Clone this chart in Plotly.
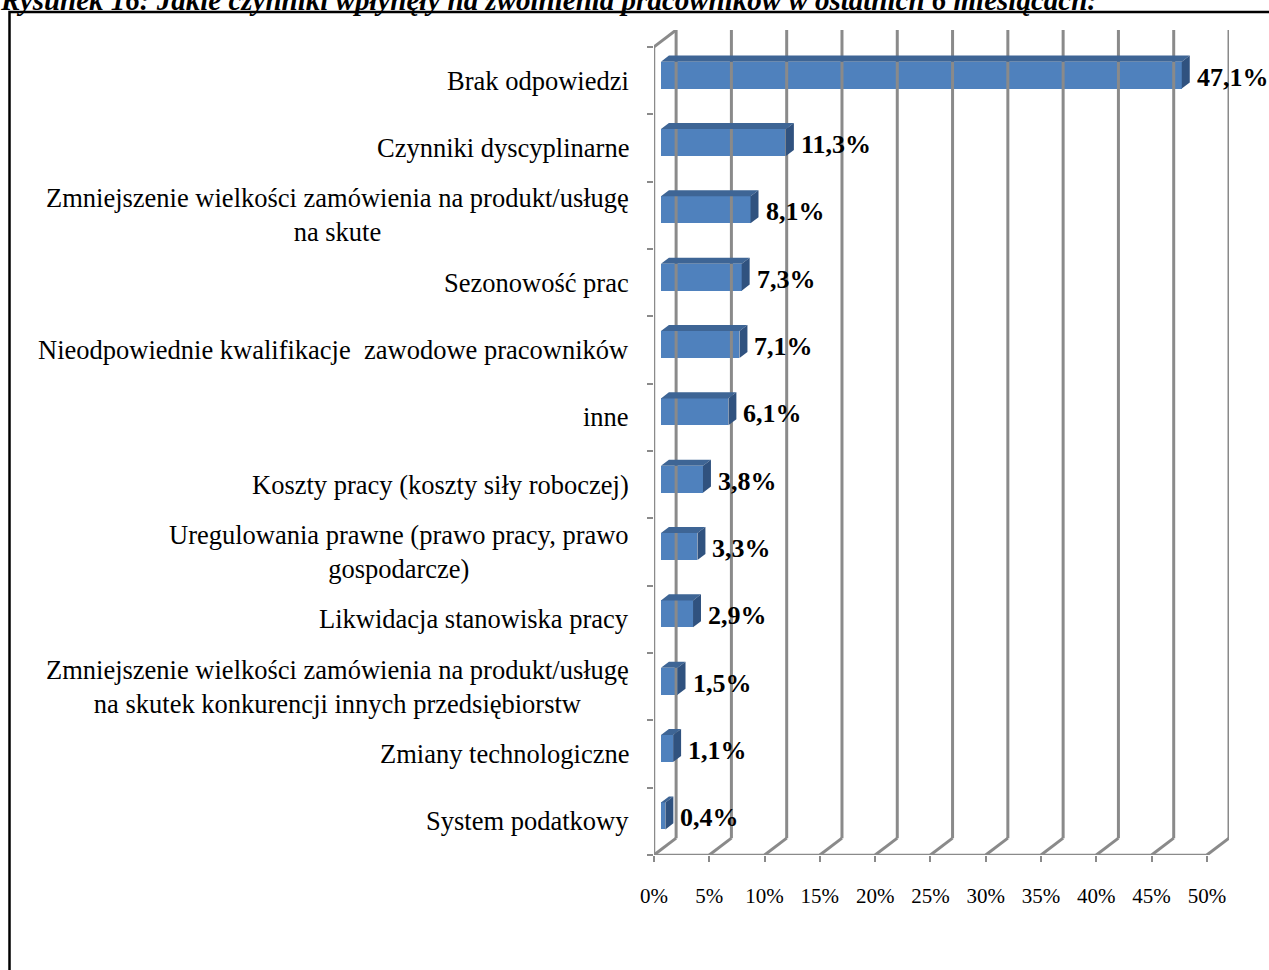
import plotly.graph_objects as go

# categories listed top to bottom as in the reference
categories = [
    "Brak odpowiedzi",
    "Czynniki dyscyplinarne",
    "Zmniejszenie wielkości zamówienia na produkt/usługę<br>na skute",
    "Sezonowość prac",
    "Nieodpowiednie kwalifikacje  zawodowe pracowników",
    "inne",
    "Koszty pracy (koszty siły roboczej)",
    "Uregulowania prawne (prawo pracy, prawo<br>gospodarcze)",
    "Likwidacja stanowiska pracy",
    "Zmniejszenie wielkości zamówienia na produkt/usługę<br>na skutek konkurencji innych przedsiębiorstw",
    "Zmiany technologiczne",
    "System podatkowy",
]
values = [47.1, 11.3, 8.1, 7.3, 7.1, 6.1, 3.8, 3.3, 2.9, 1.5, 1.1, 0.4]
x_ticks = [0, 5, 10, 15, 20, 25, 30, 35, 40, 45, 50]
x_tick_labels = [f"{t}%" for t in x_ticks]

title_text = "Rysunek 16: Jakie czynniki wpłynęły na zwolnienia pracowników w ostatnich 6 miesiącach:"

FONT = "Times New Roman, Liberation Serif, serif"
GRID = "#8a8a8a"
FRONT = "#4f81bd"
TOP = "#3e6595"
SIDE = "#30527f"

# fake 3d depth (in data units)
DX, DY = 2.0, 0.25          # back wall offset
BD = 0.63                   # bar front face offset from the front plane
BW = 0.40                   # bar thickness
TDX, TDY = 0.72, 0.09       # bar depth

n = len(categories)
ypos = [n - 1 - i + 0.5 for i in range(n)]          # front band centres
ybar = [y + 0.08 for y in ypos]                    # bars sit a bit deeper

fig = go.Figure()

# walls / grid
gx, gy = [], []
for t in x_ticks:
    gx += [t + DX, t + DX, None, t, t + DX, None]
    gy += [DY, n + DY, None, 0, DY, None]
gx += [0, DX, None]
gy += [n, n + DY, None]
fig.add_trace(go.Scatter(x=gx, y=gy, mode="lines", line=dict(color=GRID, width=3),
                         hoverinfo="skip", showlegend=False))
fig.add_trace(go.Scatter(x=[0, 0, None, 0, x_ticks[-1]], y=[n, 0, None, 0, 0], mode="lines",
                         line=dict(color=GRID, width=2.5), hoverinfo="skip", showlegend=False))

# bars (front face)
fig.add_trace(go.Bar(
    x=values, y=ybar, base=BD, orientation="h", width=BW,
    marker=dict(color=FRONT, line=dict(width=0)), showlegend=False,
))

# top and side faces
tx, ty, sx, sy = [], [], [], []
for v, y in zip(values, ybar):
    top, bot = y + BW / 2, y - BW / 2
    tx += [BD, BD + v, BD + v + TDX, BD + TDX, BD, None]
    ty += [top, top, top + TDY, top + TDY, top, None]
    sx += [BD + v, BD + v + TDX, BD + v + TDX, BD + v, BD + v, None]
    sy += [bot, bot + TDY, top + TDY, top, bot, None]
fig.add_trace(go.Scatter(x=tx, y=ty, fill="toself", fillcolor=TOP, mode="lines",
                         line=dict(width=0, color=TOP), hoverinfo="skip", showlegend=False))
fig.add_trace(go.Scatter(x=sx, y=sy, fill="toself", fillcolor=SIDE, mode="lines",
                         line=dict(width=0, color=SIDE), hoverinfo="skip", showlegend=False))

# data labels
for v, y in zip(values, ybar):
    fig.add_annotation(x=BD + v + TDX, y=y - 0.03, xanchor="left", xshift=5,
                       text="<b>" + f"{v:.1f}".replace(".", ",") + "%</b>", showarrow=False,
                       font=dict(family=FONT, size=26, color="black"))

# category labels
for c, y in zip(categories, ypos):
    fig.add_annotation(x=0, y=y, xanchor="right", xshift=-23, align="center",
                       text=c, showarrow=False,
                       font=dict(family=FONT, size=26.5, color="black"))

# title (cut at the top) and frame
fig.add_annotation(xref="paper", yref="paper", x=-656 / 575, y=(855 - 18) / 825,
                   xanchor="left", yanchor="bottom", text=f"<b><i>{title_text}</i></b>",
                   showarrow=False, font=dict(family=FONT, size=29, color="black"))
fig.add_shape(type="rect", xref="paper", yref="paper",
              x0=(9.5 - 654) / 575, x1=(1300 - 654) / 575,
              y0=(855 - 1000) / 825, y1=(855 - 12) / 825,
              line=dict(color="black", width=2.5), layer="below")

fig.update_xaxes(range=[0, 52], tickvals=x_ticks, ticktext=x_tick_labels, showgrid=False,
                 zeroline=False, showline=False, ticks="outside", ticklen=6, tickwidth=2,
                 tickcolor=GRID, ticklabelstandoff=16,
                 tickfont=dict(family=FONT, size=21, color="black"))
fig.update_yaxes(range=[0, n + DY], tickvals=list(range(n + 1)), showticklabels=False,
                 showgrid=False, zeroline=False, showline=False, ticks="outside",
                 ticklen=6, tickwidth=2, tickcolor=GRID)

fig.update_layout(
    width=1269, height=970,
    margin=dict(l=654, r=40, t=30, b=115),
    plot_bgcolor="white", paper_bgcolor="white",
    bargap=0,
)

fig.write_html("out.html", config={"displayModeBar": False},
               post_script="document.body.style.margin = '0';")
